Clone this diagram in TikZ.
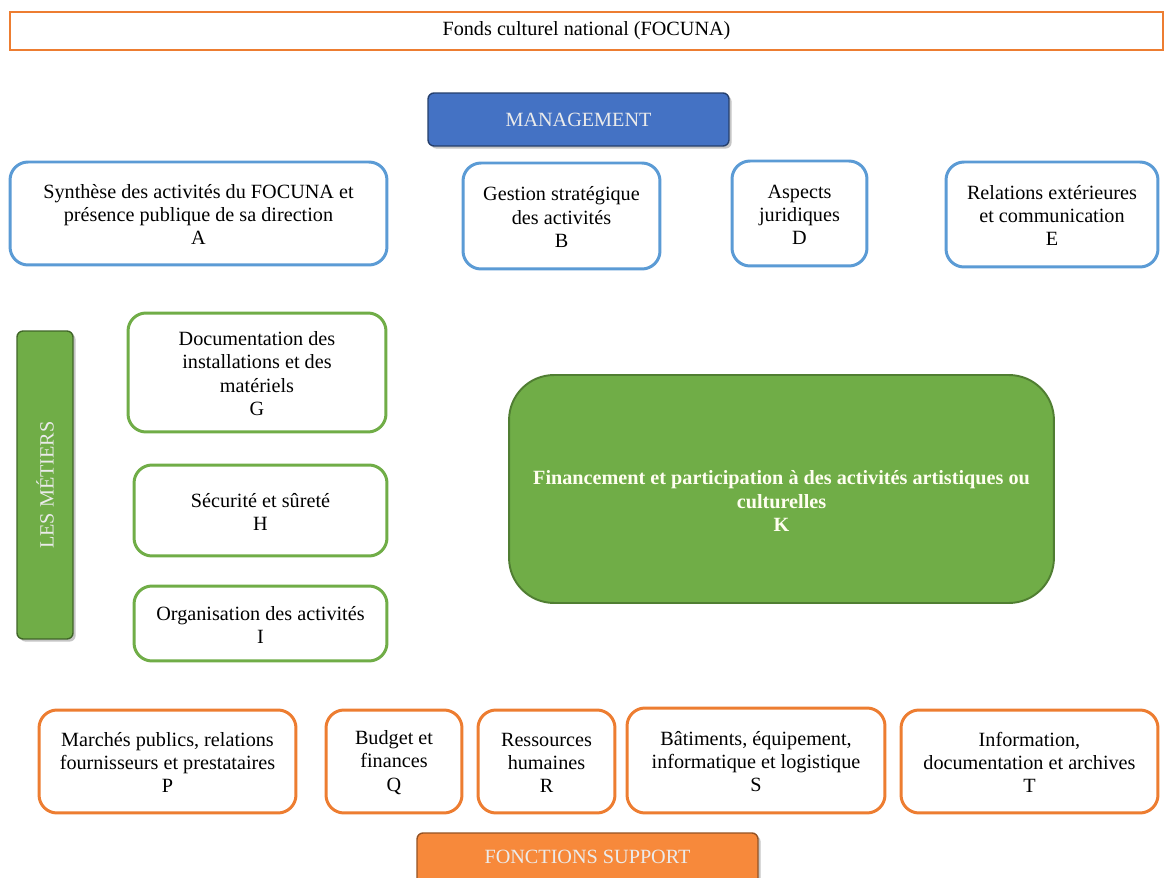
\documentclass[tikz,border=0pt]{standalone}
\usepackage{fontspec}
\setmainfont{Liberation Serif}
\usepackage{tikz}
\usetikzlibrary{shadows}
\definecolor{mgtblue}{HTML}{4472C4}
\definecolor{boxblue}{HTML}{5B9BD5}
\definecolor{metgreen}{HTML}{70AD47}
\definecolor{darkgreen}{HTML}{507E32}
\definecolor{suporange}{HTML}{ED7D31}
\definecolor{btnorange}{HTML}{F7893B}

\begin{document}
\begin{tikzpicture}[x=0.02cm, y=-0.02cm,
  every node/.style={font=\fontsize{11.5}{13.2}\selectfont, align=center, inner sep=1pt},
  mgtbox/.style={draw=boxblue, line width=1.7pt, rounded corners=0.36cm, fill=white},
  metbox/.style={draw=metgreen, line width=1.7pt, rounded corners=0.36cm, fill=white},
  supbox/.style={draw=suporange, line width=1.7pt, rounded corners=0.36cm, fill=white},
  button/.style={rounded corners=0.12cm, line width=0.8pt, text=white!92!black,
    drop shadow={shadow xshift=1.5pt, shadow yshift=-1.5pt, opacity=0.45}}]
\clip (0,0) rectangle (1164,878);
\fill[white] (0,0) rectangle (1164,878);
\node (focuna) [draw=suporange, line width=1.1pt, minimum width=23.06cm, minimum height=0.76cm] at (586.5,31) {\strut Fonds culturel national (FOCUNA)};
% management
\node (mgt) [button, fill=mgtblue, draw=mgtblue!55!black, minimum width=6.02cm, minimum height=1.06cm] at (578.5,119.5) {MANAGEMENT};
\node (A) [mgtbox, minimum width=7.54cm, minimum height=2.06cm] at (198.5,213.5) {\strut Synthèse des activités du FOCUNA et\\présence publique de sa direction\\A};
\node (B) [mgtbox, minimum width=3.94cm, minimum height=2.12cm] at (561.5,216) {\strut Gestion stratégique\\des activités\\B};
\node (D) [mgtbox, minimum width=2.70cm, minimum height=2.10cm] at (799.5,213.5) {\strut Aspects\\juridiques\\D};
\node (E) [mgtbox, minimum width=4.24cm, minimum height=2.10cm] at (1052,214.5) {\strut Relations extérieures\\et communication\\E};
% metiers
\node (metiers) [button, fill=metgreen, draw=darkgreen!80!black, rotate=90, minimum width=6.16cm, minimum height=1.12cm] at (45,485) {LES MÉTIERS};
\node (G) [metbox, minimum width=5.16cm, minimum height=2.38cm] at (257,372.5) {\strut Documentation des\\installations et des\\matériels\\G};
\node (H) [metbox, minimum width=5.06cm, minimum height=1.82cm] at (260.5,510.5) {\strut Sécurité et sûreté\\H};
\node (I) [metbox, minimum width=5.06cm, minimum height=1.50cm] at (260.5,623.5) {\strut Organisation des activités\\I};
\node (K) [fill=metgreen, draw=darkgreen, line width=1.1pt, rounded corners=0.9cm, minimum width=10.90cm, minimum height=4.56cm] at (781.5,489) {};
\node (Ktext) [text=white!94!yellow, font=\fontsize{11.5}{13.2}\selectfont\bfseries] at (781.5,501) {Financement et participation à des activités artistiques ou\\culturelles\\K};
% fonctions support
\node (P) [supbox, minimum width=5.14cm, minimum height=2.06cm] at (167.5,761.5) {\strut Marchés publics, relations\\fournisseurs et prestataires\\P};
\node (Q) [supbox, minimum width=2.72cm, minimum height=2.06cm] at (394,761.5) {\strut Budget et\\finances\\Q};
\node (R) [supbox, minimum width=2.74cm, minimum height=2.06cm] at (546.5,761.5) {\strut Ressources\\humaines\\R};
\node (S) [supbox, minimum width=5.16cm, minimum height=2.10cm] at (756,760.5) {\strut Bâtiments, équipement,\\informatique et logistique\\S};
\node (T) [supbox, minimum width=5.14cm, minimum height=2.06cm] at (1029.5,761.5) {\strut Information,\\documentation et archives\\T};
\node (support) [button, fill=btnorange, draw=btnorange!60!black, minimum width=6.82cm, minimum height=1.10cm] at (587.5,860.5) {};
\node (supporttext) at (587.5,857) {\textcolor{white!92!black}{FONCTIONS SUPPORT}};
\end{tikzpicture}
\end{document}
